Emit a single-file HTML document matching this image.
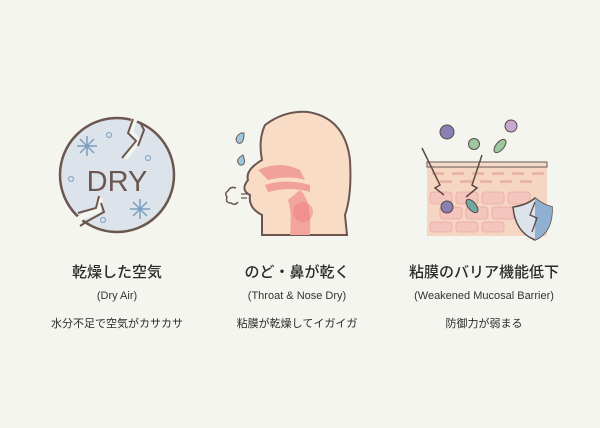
<!DOCTYPE html>
<html><head><meta charset="utf-8"><style>
html,body{margin:0;padding:0;background:#f5f5f0;}
body{width:600px;height:428px;position:relative;overflow:hidden;font-family:"Liberation Sans","Noto Sans CJK JP",sans-serif;color:#2a2a2a;}
.t{position:absolute;text-align:center;white-space:nowrap;transform:translateX(-50%);}
.h{font-size:15px;top:262px;font-family:"Noto Sans CJK JP",sans-serif;font-weight:500;line-height:20px;}
.s{font-size:11px;top:290px;color:#333;}
.d{font-size:11px;top:315px;}
</style></head><body>
<svg width="600" height="428" style="position:absolute;left:0;top:0">
<circle cx="117" cy="175" r="57" fill="#dde3ea" stroke="#6b5750" stroke-width="2.5"/>
<path d="M135,118 L130,132 L138,140 L125,158" stroke="#f5f5f0" stroke-width="6" fill="none"/>
<path d="M133,119 L128,133 L136,141 L122,158 M140,122 L144,130 L138,146" stroke="#6b5750" stroke-width="2" fill="none"/>
<path d="M100,198 L98,210 L82,217 L75,222 L90,230" stroke="#f5f5f0" stroke-width="6" fill="none"/>
<path d="M99,196 L96,208 L78,213 M101,203 L104,212 L86,222 L80,226" stroke="#6b5750" stroke-width="2" fill="none"/>
<text x="117" y="191" font-size="29" font-family="Liberation Sans" fill="#6b5750" text-anchor="middle">DRY</text>
<g stroke="#7b9fc0" stroke-width="1.5"><path d="M87,136 v20 M77,146 h20 M80,139 l14,14 M94,139 l-14,14"/><path d="M140,199 v20 M130,209 h20 M133,202 l14,14 M147,202 l-14,14"/></g>
<g fill="none" stroke="#8aa9c6" stroke-width="1.2"><circle cx="109" cy="135" r="2.5"/><circle cx="148" cy="158" r="2.5"/><circle cx="71" cy="179" r="2.5"/><circle cx="103" cy="220" r="2.5"/></g>
<path d="M262,235 L262,215 Q248,208 250,195 Q240,190 248,180 Q245,170 262,160 Q258,140 265,125 Q285,110 308,112 Q345,118 350,160 Q352,195 345,215 L347,235 Z" fill="#f8dcc6" stroke="#6b5750" stroke-width="2"/>
<path d="M258,170 Q280,160 300,170 L305,180 Q290,175 268,180 Z" fill="#f2a19a"/>
<path d="M265,185 Q285,178 310,185 L310,192 Q290,186 268,192 Z" fill="#f2a19a"/>
<path d="M300,190 Q312,200 310,235 L290,235 Q292,210 288,200 Z" fill="#f3a49c"/>
<circle cx="303" cy="212" r="10" fill="#ef7e7e" opacity=".5"/>
<path d="M241,133 q-8,5 -3,10 q6,2 6,-10z M243,155 q-9,5 -3,10 q7,1 3,-10z" fill="#9cc9e0" stroke="#6b5750" stroke-width="1"/>
<path d="M236,188 q-6,-2 -8,3 q-4,2 -1,6 q-2,6 4,6 q4,3 7,-1" fill="none" stroke="#6b5750" stroke-width="1.5"/>
<path d="M241,194 h8 M241,198 h6" stroke="#6b5750" stroke-width="1.2"/>
<rect x="427" y="162" width="120" height="74" fill="#f5d6c3"/>
<rect x="427" y="162" width="120" height="5" fill="#f3ddc8" stroke="#6b5750" stroke-width="1"/>
<g fill="#eab6a6"><rect x="432" y="172" width="12" height="3"/><rect x="452" y="172" width="12" height="3"/><rect x="472" y="172" width="12" height="3"/><rect x="492" y="172" width="12" height="3"/><rect x="512" y="172" width="12" height="3"/><rect x="532" y="172" width="12" height="3"/><rect x="440" y="180" width="12" height="3"/><rect x="460" y="180" width="12" height="3"/><rect x="480" y="180" width="12" height="3"/><rect x="500" y="180" width="12" height="3"/><rect x="520" y="180" width="12" height="3"/></g>
<g fill="#f3c5bd" stroke="#eaa8a0" stroke-width=".8"><rect x="430" y="192" width="22" height="12" rx="3"/><rect x="456" y="192" width="22" height="12" rx="3"/><rect x="482" y="192" width="22" height="12" rx="3"/><rect x="508" y="192" width="22" height="12" rx="3"/><rect x="440" y="207" width="22" height="12" rx="3"/><rect x="466" y="207" width="22" height="12" rx="3"/><rect x="492" y="207" width="22" height="12" rx="3"/><rect x="430" y="222" width="22" height="10" rx="3"/><rect x="456" y="222" width="22" height="10" rx="3"/><rect x="482" y="222" width="22" height="10" rx="3"/></g>
<path d="M422,148 L440,185 L435,188 L444,195" stroke="#5a4a45" stroke-width="1.5" fill="none"/>
<path d="M482,155 L472,185 L477,188 L466,197" stroke="#5a4a45" stroke-width="1.5" fill="none"/>
<g stroke="#5a4a45" stroke-width="1"><circle cx="447" cy="132" r="7" fill="#8a80b5"/><circle cx="447" cy="207" r="6" fill="#8a80b5"/><circle cx="474" cy="144" r="5.5" fill="#9cc8a0"/><circle cx="511" cy="126" r="6" fill="#c8a8d0"/><ellipse cx="500" cy="146" rx="4" ry="8" transform="rotate(40 500 146)" fill="#9cc8a0"/><ellipse cx="472" cy="206" rx="4" ry="8" transform="rotate(-40 472 206)" fill="#6fa8a0"/></g>
<path d="M513,207 Q527,205 535,198 Q543,205 552,207 Q553,232 535,240 Q515,232 513,207Z" fill="#dde3ea" stroke="#5a4a45" stroke-width="1.5"/>
<path d="M535,198 Q543,205 552,207 Q553,232 535,240Z" fill="#8fb0d0"/>
<path d="M535,202 L530,215 L537,218 L532,232" stroke="#5a4a45" stroke-width="1.3" fill="none"/>
</svg>
<div class="t h" style="left:117px">乾燥した空気</div>
<div class="t s" style="left:117px">(Dry Air)</div>
<div class="t d" style="left:117px">水分不足で空気がカサカサ</div>
<div class="t h" style="left:297px">のど・鼻が乾く</div>
<div class="t s" style="left:297px">(Throat &amp; Nose Dry)</div>
<div class="t d" style="left:297px">粘膜が乾燥してイガイガ</div>
<div class="t h" style="left:484px">粘膜のバリア機能低下</div>
<div class="t s" style="left:484px">(Weakened Mucosal Barrier)</div>
<div class="t d" style="left:484px">防御力が弱まる</div>
</body></html>
